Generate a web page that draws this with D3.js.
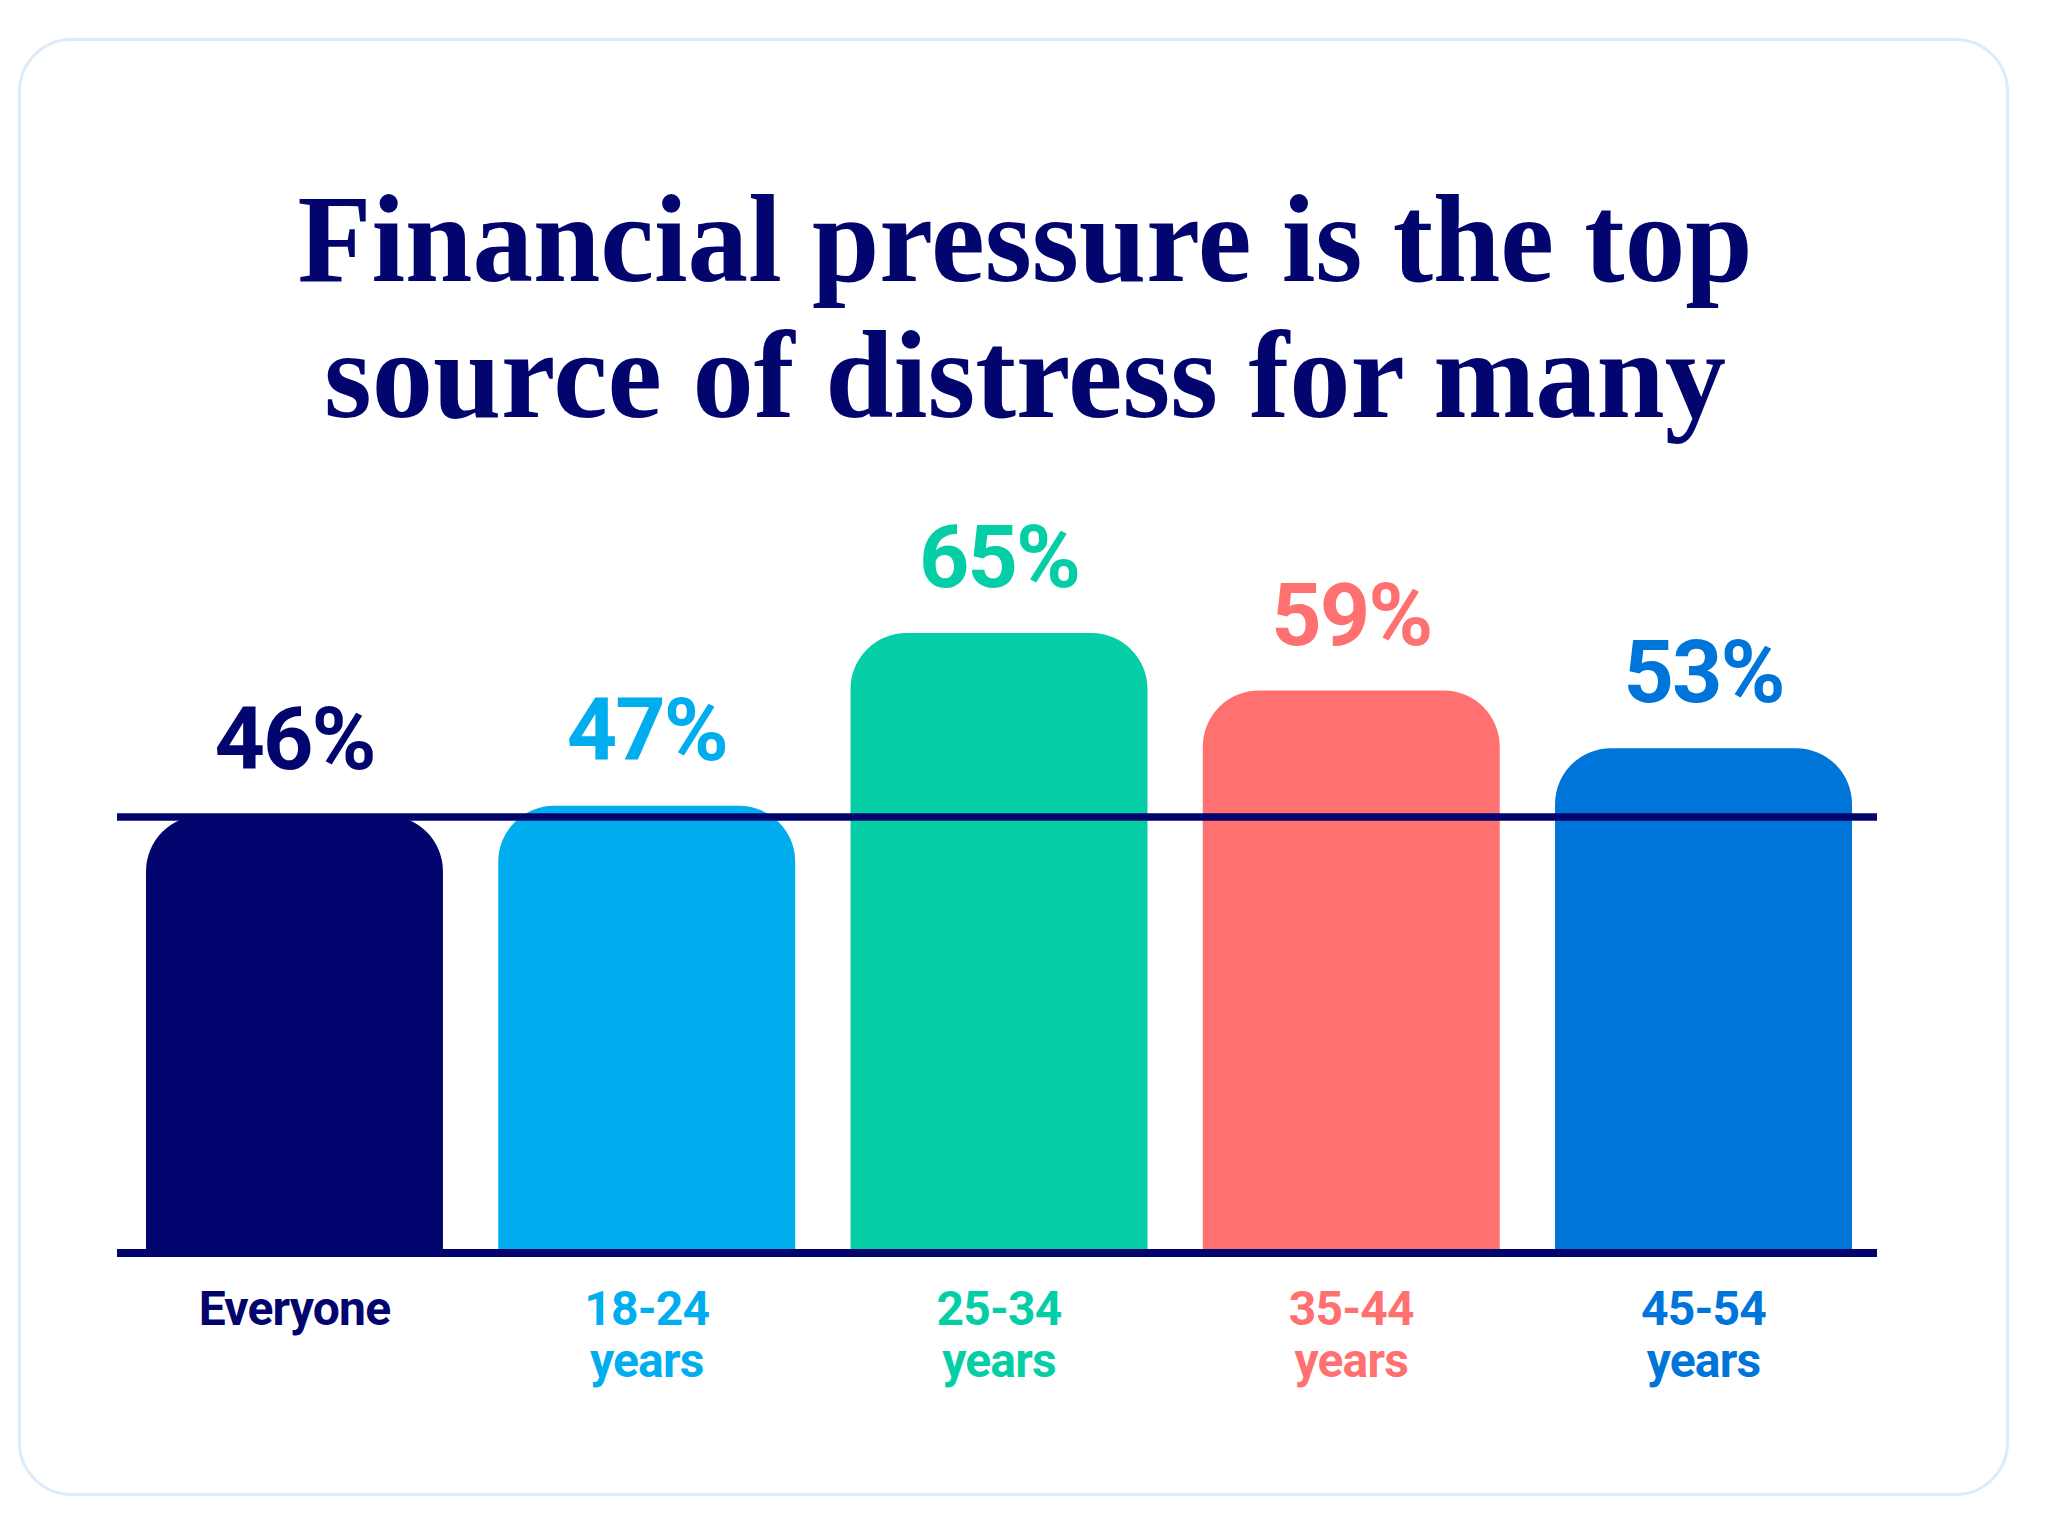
<!DOCTYPE html>
<html>
<head>
<meta charset="utf-8">
<script src="https://cdn.jsdelivr.net/npm/d3@7"></script>
<style>
  html, body { margin: 0; padding: 0; background: #ffffff; }
  svg { display: block; }
</style>
</head>
<body>
<div id="chart"></div>
<script>
// ---- data ----
const categories = ["Everyone", "18-24 years", "25-34 years", "35-44 years", "45-54 years"];
const tickLabels = [["Everyone"], ["18-24", "years"], ["25-34", "years"], ["35-44", "years"], ["45-54", "years"]];
const values = [46, 47, 65, 59, 53];
const colors = ["#02056e", "#00aeef", "#05cea6", "#ff7170", "#0075d9"];
const referenceValue = 46;
const titleLines = ["Financial pressure is the top", "source of distress for many"];

// ---- layout ----
const W = 2048, H = 1534;
const navy = "#02056e";

const svg = d3.select("#chart").append("svg")
  .attr("width", W).attr("height", H)
  .attr("viewBox", `0 0 ${W} ${H}`);

// card
svg.append("rect")
  .attr("x", 19.5).attr("y", 39.5)
  .attr("width", 1988).attr("height", 1455)
  .attr("rx", 52).attr("ry", 52)
  .attr("fill", "#ffffff")
  .attr("stroke", "#dcebfb")
  .attr("stroke-width", 3);

// title
const titleWidths = [1455, 1402];
svg.append("g").selectAll("text")
  .data(titleLines)
  .join("text")
  .attr("x", 1025)
  .attr("y", (d, i) => 281 + i * 136)
  .attr("text-anchor", "middle")
  .attr("font-family", "'Liberation Serif', 'Times New Roman', serif")
  .attr("font-weight", 700)
  .attr("font-size", 124)
  .attr("fill", navy)
  .attr("textLength", (d, i) => titleWidths[i])
  .attr("lengthAdjust", "spacingAndGlyphs")
  .text(d => d);

// scales
const x = d3.scaleBand()
  .domain(categories)
  .range([146, 1852])
  .paddingInner(0.157)
  .paddingOuter(0);

const y = d3.scaleLinear()
  .domain([0, 100])
  .range([1257, 297]);

const r = 56;
function topRoundedBar(x0, w, yTop, yBottom, rad) {
  const rr = Math.min(rad, w / 2, yBottom - yTop);
  return `M${x0},${yBottom}` +
    `L${x0},${yTop + rr}` +
    `A${rr},${rr} 0 0 1 ${x0 + rr},${yTop}` +
    `L${x0 + w - rr},${yTop}` +
    `A${rr},${rr} 0 0 1 ${x0 + w},${yTop + rr}` +
    `L${x0 + w},${yBottom}Z`;
}

// bars
svg.append("g").selectAll("path")
  .data(categories)
  .join("path")
  .attr("d", (c, i) => topRoundedBar(x(c), x.bandwidth(), y(values[i]), y(0), r))
  .attr("fill", (c, i) => colors[i]);

// reference line (Everyone value)
svg.append("line")
  .attr("x1", 117).attr("x2", 1877)
  .attr("y1", y(referenceValue) + 1.5).attr("y2", y(referenceValue) + 1.5)
  .attr("stroke", navy).attr("stroke-width", 7.5);

// baseline axis line
svg.append("line")
  .attr("x1", 117).attr("x2", 1877)
  .attr("y1", y(0) - 4).attr("y2", y(0) - 4)
  .attr("stroke", navy).attr("stroke-width", 8);

// value labels
svg.append("g").selectAll("text")
  .data(categories)
  .join("text")
  .attr("x", c => x(c) + x.bandwidth() / 2)
  .attr("y", (c, i) => y(values[i]) - 46)
  .attr("text-anchor", "middle")
  .attr("font-family", "Roboto, 'Noto Sans', sans-serif")
  .attr("font-weight", 700)
  .attr("font-size", 88)
  .attr("letter-spacing", -2)
  .attr("fill", (c, i) => colors[i])
  .text((c, i) => `${values[i]}%`);

// category labels
const catG = svg.append("g").selectAll("text")
  .data(categories)
  .join("text")
  .attr("x", c => x(c) + x.bandwidth() / 2)
  .attr("y", 1325)
  .attr("text-anchor", "middle")
  .attr("font-family", "Roboto, 'Noto Sans', sans-serif")
  .attr("font-weight", 700)
  .attr("font-size", 48)
  .attr("letter-spacing", -0.8)
  .attr("fill", (c, i) => colors[i]);

catG.each(function (c, i) {
  const t = d3.select(this);
  const cx = x(c) + x.bandwidth() / 2;
  tickLabels[i].forEach((line, j) => {
    t.append("tspan")
      .attr("x", cx)
      .attr("dy", j === 0 ? 0 : 52)
      .text(line);
  });
});
</script>
</body>
</html>
